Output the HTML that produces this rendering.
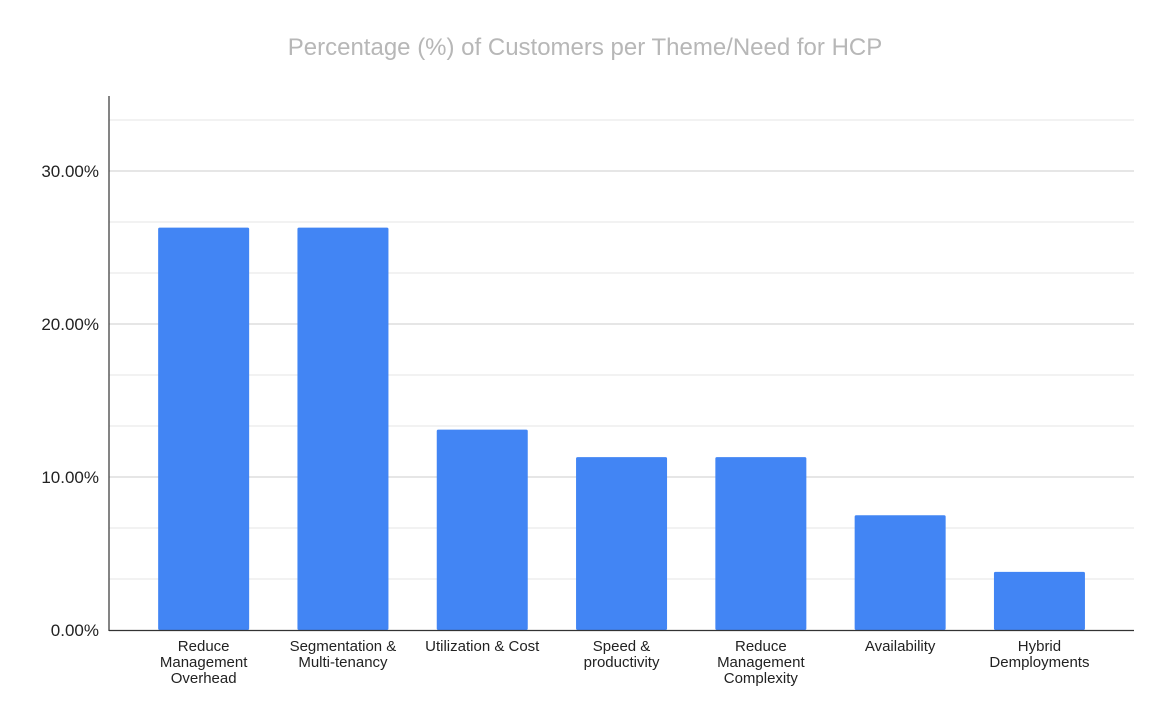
<!DOCTYPE html>
<html><head><meta charset="utf-8"><style>
body{margin:0;background:#fff;}
svg{display:block;font-family:"Liberation Sans",Arial,sans-serif;}
</style></head><body>
<svg id="chart" width="1170" height="723" viewBox="0 0 1170 723" xmlns="http://www.w3.org/2000/svg">
<rect width="1170" height="723" fill="#fff"/>
<text x="585" y="55" text-anchor="middle" font-size="24" fill="#b7b7b7">Percentage (%) of Customers per Theme/Need for HCP</text>
<g id="grid"></g><g id="bars"></g><g id="yticks"></g><g id="xlabels"></g>
<line x1="109" y1="96" x2="109" y2="631" stroke="#333" stroke-width="1.2"/>
<line x1="109" y1="630.5" x2="1134" y2="630.5" stroke="#333" stroke-width="1.2"/>
</svg>
<script>
const categories=[["Reduce","Management","Overhead"],["Segmentation &","Multi-tenancy"],["Utilization & Cost"],["Speed &","productivity"],["Reduce","Management","Complexity"],["Availability"],["Hybrid","Demployments"]];
const values=[26.3,26.3,13.1,11.3,11.3,7.5,3.8];
const tickValues=[0,10,20,30];
const tickLabels=["0.00%","10.00%","20.00%","30.00%"];
const gridValues=[3.333,6.667,13.333,16.667,23.333,26.667,33.333];
const NS="http://www.w3.org/2000/svg";
const y=v=>630-v*15.3;
const x0=134,band=139.3,bw=91;
const xc=i=>x0+band*(i+0.5);
function mk(t,a,p){const e=document.createElementNS(NS,t);for(const k in a)e.setAttribute(k,a[k]);document.getElementById(p).appendChild(e);return e;}
gridValues.forEach(v=>{const l=mk('line',{x1:109,x2:1134,y1:y(v),y2:y(v),stroke:'#e6e6e6','stroke-width':1},'grid');

});
tickValues.forEach((v,i)=>{if(v>0){const l=mk('line',{x1:109,x2:1134,y1:y(v),y2:y(v),stroke:'#cccccc','stroke-width':1},'grid');

}
const t=mk('text',{x:99,y:y(v)+6,'text-anchor':'end','font-size':17,fill:'#222'},'yticks');t.textContent=tickLabels[i];

});
values.forEach((v,i)=>{const r=mk('rect',{x:xc(i)-bw/2,y:y(v),width:bw,height:630-y(v),fill:'#4285f4',rx:1.5},'bars');


const t=mk('text',{'text-anchor':'middle','font-size':15,fill:'#222'},'xlabels');


categories[i].forEach((s,j)=>{const ts=document.createElementNS(NS,'tspan');ts.setAttribute('x',xc(i));ts.setAttribute('y',651+j*16);ts.textContent=s;t.appendChild(ts);});});
</script>
</body></html>
